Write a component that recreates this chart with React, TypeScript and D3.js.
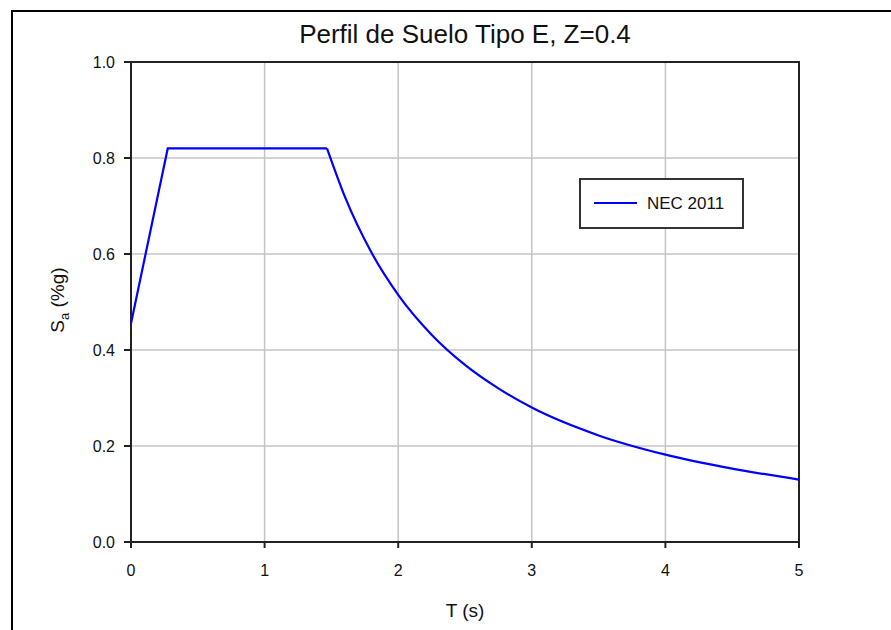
import * as d3 from "d3";

// spectrum (T in s, Sa in g)
const periods = [0, 0.275, 1.467, 1.6, 1.8, 2.0, 2.25, 2.5, 2.75, 3.0, 3.5, 4.0, 4.5, 5.0];
const saValues = [0.455, 0.82, 0.82, 0.72, 0.603, 0.515, 0.432, 0.369, 0.32, 0.28, 0.222, 0.182, 0.153, 0.13];

const xTicks = [0, 1, 2, 3, 4, 5];
const yTicks = [0, 0.2, 0.4, 0.6, 0.8, 1.0];

const seriesName = "NEC 2011";
const title = "Perfil de Suelo Tipo E, Z=0.4";

const WIDTH = 891;
const HEIGHT = 630;
const font = "Arial, 'Liberation Sans', sans-serif";

export default function App() {
  const left = 131;
  const right = 799;
  const top = 62;
  const bottom = 542;

  const x = d3.scaleLinear().domain([0, 5]).range([left, right]);
  const y = d3.scaleLinear().domain([0, 1]).range([bottom, top]);

  const points = periods.map((t, i) => [t, saValues[i]] as [number, number]);
  // flat part + ramp are straight, decay is smooth
  const straight = d3
    .line<[number, number]>()
    .x((d) => x(d[0]))
    .y((d) => y(d[1]));
  const smooth = d3
    .line<[number, number]>()
    .x((d) => x(d[0]))
    .y((d) => y(d[1]))
    .curve(d3.curveMonotoneX);

  const gridColor = "#c4c4c4";
  const axisColor = "#222";

  return (
    <svg
      width={WIDTH}
      height={HEIGHT}
      style={{ position: "absolute", left: 0, top: 0, background: "#fff" }}
      fontFamily={font}
    >
      <rect x={12} y={11} width={WIDTH + 20} height={HEIGHT + 20} fill="#fff" stroke="#000" strokeWidth={2} />

      <text x={(left + right) / 2} y={43} textAnchor="middle" fontSize={26} fill="#111">
        {title}
      </text>

      {/* grid */}
      {xTicks.slice(1, -1).map((t) => (
        <line key={"gx" + t} x1={x(t)} x2={x(t)} y1={top} y2={bottom} stroke={gridColor} strokeWidth={1.5} />
      ))}
      {yTicks.slice(1, -1).map((t) => (
        <line key={"gy" + t} x1={left} x2={right} y1={y(t)} y2={y(t)} stroke={gridColor} strokeWidth={1.5} />
      ))}

      {/* frame */}
      <rect x={left} y={top} width={right - left} height={bottom - top} fill="none" stroke={axisColor} strokeWidth={2} />

      {/* y ticks */}
      {yTicks.map((t) => (
        <g key={"ty" + t}>
          <line x1={left - 7} x2={left} y1={y(t)} y2={y(t)} stroke={axisColor} strokeWidth={2} />
          <text x={115} y={y(t)} dy="0.36em" textAnchor="end" fontSize={16} fill="#111">
            {d3.format(".1f")(t)}
          </text>
        </g>
      ))}

      {/* x ticks */}
      {xTicks.map((t) => (
        <g key={"tx" + t}>
          <line x1={x(t)} x2={x(t)} y1={bottom} y2={bottom + 6} stroke={axisColor} strokeWidth={2} />
          <text x={x(t)} y={576} textAnchor="middle" fontSize={16} fill="#111">
            {t}
          </text>
        </g>
      ))}

      <text x={(left + right) / 2} y={617} textAnchor="middle" fontSize={19} fill="#111">
        T (s)
      </text>
      <text transform={`translate(64,300) rotate(-90)`} textAnchor="middle" fontSize={19} fill="#111">
        S<tspan fontSize={13} dy={5}>a</tspan>
        <tspan dy={-5}> (%g)</tspan>
      </text>

      {/* curve */}
      <path d={straight(points.slice(0, 3)) ?? ""} fill="none" stroke="#0000ff" strokeWidth={2.2} />
      <path d={smooth(points.slice(2)) ?? ""} fill="none" stroke="#0000ff" strokeWidth={2.2} />

      {/* legend */}
      <rect x={580} y={179} width={163} height={49} fill="#fff" stroke="#333" strokeWidth={2} />
      <line x1={594} x2={637} y1={203} y2={203} stroke="#0000ff" strokeWidth={2} />
      <text x={647} y={203} dy="0.36em" fontSize={17} fill="#111">
        {seriesName}
      </text>
    </svg>
  );
}
